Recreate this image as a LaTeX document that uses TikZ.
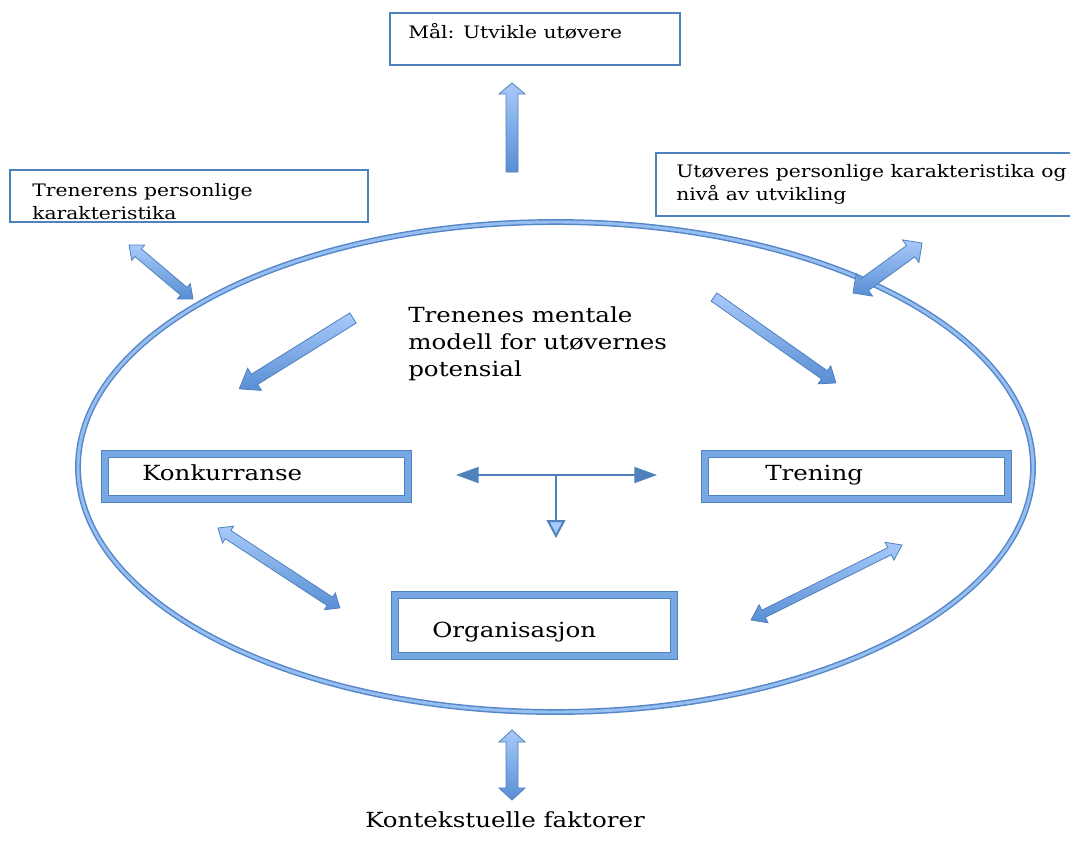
\documentclass[tikz,border=0pt]{standalone}
\usepackage{fontspec}
\setmainfont{DejaVu Serif}[FakeStretch=1.18]
\usetikzlibrary{arrows.meta,calc,fit,shapes.geometric}
\definecolor{boxline}{RGB}{79,129,189}
\definecolor{framefill}{RGB}{120,168,228}
\definecolor{arrLight}{RGB}{168,202,250}
\definecolor{arrDark}{RGB}{88,142,212}
\definecolor{ellDark}{RGB}{85,135,200}
\definecolor{ellLight}{RGB}{150,190,240}
\newcommand\bigtext{\fontsize{15.6pt}{20.25pt}\selectfont}
\newcommand\smalltext{\fontsize{12.9pt}{17.25pt}\selectfont}
\newcommand\blockarrow[6]{%
  \path (#1); \pgfgetlastxy{\bax}{\bay}%
  \path (#2); \pgfgetlastxy{\bbx}{\bby}%
  \pgfmathsetmacro\blen{veclen((\bbx)-(\bax),(\bby)-(\bay))/0.75}%
  \pgfmathsetmacro\bang{atan2((\bby)-(\bay),(\bbx)-(\bax))}%
  \begin{scope}[shift={(\bax,\bay)}, rotate=\bang, x=0.75pt, y=0.75pt]
    \ifnum#6=1
      \draw[barrow] (0,0) -- (#5,#4) -- (#5,#3) -- ({\blen-#5},#3) -- ({\blen-#5},#4) -- (\blen,0) -- ({\blen-#5},-#4) -- ({\blen-#5},-#3) -- (#5,-#3) -- (#5,-#4) -- cycle;
    \else
      \draw[barrow] (0,#3) -- ({\blen-#5},#3) -- ({\blen-#5},#4) -- (\blen,0) -- ({\blen-#5},-#4) -- ({\blen-#5},-#3) -- (0,-#3) -- cycle;
    \fi
  \end{scope}}
\begin{document}
\begin{tikzpicture}[x=0.75pt,y=-0.75pt,
  thinbox/.style={draw=boxline, line width=1.1pt, fill=white, inner sep=0pt, rectangle},
  framebox/.style={draw=boxline, line width=0.6pt, double=framefill, double distance=4.4pt, fill=white, inner sep=0pt, rectangle},
  ell/.style={ellipse, draw=ellDark, line width=1.1pt, double=ellLight, double distance=2.2pt, inner sep=0pt},
  barrow/.style={draw=boxline, line width=0.6pt, top color=arrLight, bottom color=arrDark},
  tline/.style={draw=boxline, line width=1.5pt},
  txt/.style={anchor=base west, inner sep=0pt, text=black},
  bigtxt/.style={txt, font=\bigtext},
  smalltxt/.style={txt, font=\smalltext}]
\clip (0,0) rectangle (1070,843);
\fill[white] (0,0) rectangle (1070,843);

% ellipse
\node[ell, minimum width=716.25pt, minimum height=367.5pt] (mental) at (555.5,467) {};

% thin boxes
\node[thinbox, fit={(390,13) (680,65)}] (goal) {};
\node[thinbox, fit={(10,170) (368,222)}] (coach) {};
\node[thinbox, fit={(656,153) (1090,216)}] (athlete) {};

% framed boxes
\node[framebox, fit={(105,454) (408,499)}] (konk) {};
\node[framebox, fit={(705,454) (1008,499)}] (tren) {};
\node[framebox, fit={(395,595) (674,656)}] (org) {};

% texts
\node[smalltxt] (goal-t) at (408,38) {\begin{tabular}[t]{@{}l@{}}Mål: Utvikle utøvere\end{tabular}};
\node[smalltxt] (coach-t) at (32,196) {\begin{tabular}[t]{@{}l@{}}Trenerens personlige\\karakteristika\end{tabular}};
\node[smalltxt] (athlete-t) at (676,177) {\begin{tabular}[t]{@{}l@{}}Utøveres personlige karakteristika og\\nivå av utvikling\end{tabular}};
\node[bigtxt] (mental-t) at (408,322) {\begin{tabular}[t]{@{}l@{}}Trenenes mentale\\modell for utøvernes\\potensial\end{tabular}};
\node[bigtxt] (konk-t) at (142,480) {Konkurranse};
\node[bigtxt] (tren-t) at (765,480) {Trening};
\node[bigtxt] (org-t) at (432,637) {Organisasjon};
\node[bigtxt] (context) at (365,827) {Kontekstuelle faktorer};

% block arrows
\coordinate (a1t) at (512,172); \coordinate (a1h) at (512,83);
\blockarrow{a1t}{a1h}{6}{13}{11}{0}
\coordinate (a2a) at (129,245); \coordinate (a2b) at (193,299);
\blockarrow{a2a}{a2b}{5}{10}{12}{1}
\coordinate (a3a) at (922,243); \coordinate (a3b) at (853,293);
\blockarrow{a3a}{a3b}{7}{14}{14}{1}
\coordinate (a4t) at (353,318); \coordinate (a4h) at (239,389);
\blockarrow{a4t}{a4h}{6}{13}{18}{0}
\coordinate (a5t) at (714,297); \coordinate (a5h) at (836,383);
\blockarrow{a5t}{a5h}{5}{11}{14}{0}
\coordinate (a6a) at (218,528); \coordinate (a6b) at (340,608);
\blockarrow{a6a}{a6b}{5}{10}{12}{1}
\coordinate (a7a) at (751,620); \coordinate (a7b) at (902,545);
\blockarrow{a7a}{a7b}{4}{10}{14}{1}
\coordinate (a8a) at (512,730); \coordinate (a8b) at (512,800);
\blockarrow{a8a}{a8b}{6}{13}{12}{1}

% T connector
\coordinate (tl) at (456,475); \coordinate (tr) at (657,475);
\coordinate (tj) at (556,475); \coordinate (tb) at (556,538);
\draw[tline, {Triangle[length=17pt,width=12pt]}-{Triangle[length=17pt,width=12pt]}] (tl) -- (tr);
\draw[tline, -{Triangle[length=13.5pt,width=14pt,fill=arrLight]}] (tj) -- (tb);
\end{tikzpicture}
\end{document}
